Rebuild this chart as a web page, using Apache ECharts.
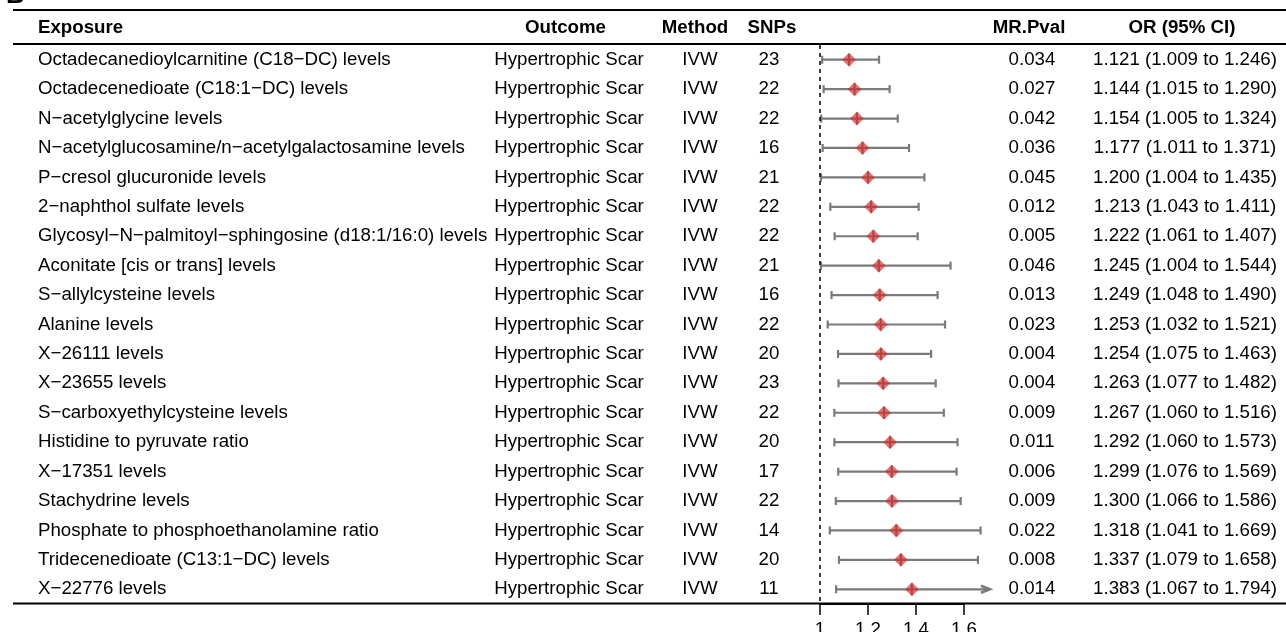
<!DOCTYPE html>
<html><head><meta charset="utf-8">
<script src="https://cdn.jsdelivr.net/npm/echarts@6/dist/echarts.min.js"></script>
<style>html,body{margin:0;padding:0;background:#fff;}#c{width:1286px;height:632px;}</style>
</head><body><div id="c"></div>
<script>
const exposures = [
  "Octadecanedioylcarnitine (C18\u2212DC) levels",
  "Octadecenedioate (C18:1\u2212DC) levels",
  "N\u2212acetylglycine levels",
  "N\u2212acetylglucosamine/n\u2212acetylgalactosamine levels",
  "P\u2212cresol glucuronide levels",
  "2\u2212naphthol sulfate levels",
  "Glycosyl\u2212N\u2212palmitoyl\u2212sphingosine (d18:1/16:0) levels",
  "Aconitate [cis or trans] levels",
  "S\u2212allylcysteine levels",
  "Alanine levels",
  "X\u221226111 levels",
  "X\u221223655 levels",
  "S\u2212carboxyethylcysteine levels",
  "Histidine to pyruvate ratio",
  "X\u221217351 levels",
  "Stachydrine levels",
  "Phosphate to phosphoethanolamine ratio",
  "Tridecenedioate (C13:1\u2212DC) levels",
  "X\u221222776 levels"
];
const outcomes = ["Hypertrophic Scar","Hypertrophic Scar","Hypertrophic Scar","Hypertrophic Scar","Hypertrophic Scar","Hypertrophic Scar","Hypertrophic Scar","Hypertrophic Scar","Hypertrophic Scar","Hypertrophic Scar","Hypertrophic Scar","Hypertrophic Scar","Hypertrophic Scar","Hypertrophic Scar","Hypertrophic Scar","Hypertrophic Scar","Hypertrophic Scar","Hypertrophic Scar","Hypertrophic Scar"];
const methods = ["IVW","IVW","IVW","IVW","IVW","IVW","IVW","IVW","IVW","IVW","IVW","IVW","IVW","IVW","IVW","IVW","IVW","IVW","IVW"];
const snps = ["23","22","22","16","21","22","22","21","16","22","20","23","22","20","17","22","14","20","11"];
const pvals = ["0.034","0.027","0.042","0.036","0.045","0.012","0.005","0.046","0.013","0.023","0.004","0.004","0.009","0.011","0.006","0.009","0.022","0.008","0.014"];
const orVals = [1.121,1.144,1.154,1.177,1.200,1.213,1.222,1.245,1.249,1.253,1.254,1.263,1.267,1.292,1.299,1.300,1.318,1.337,1.383];
const loVals = [1.009,1.015,1.005,1.011,1.004,1.043,1.061,1.004,1.048,1.032,1.075,1.077,1.060,1.060,1.076,1.066,1.041,1.079,1.067];
const hiVals = [1.246,1.290,1.324,1.371,1.435,1.411,1.407,1.544,1.490,1.521,1.463,1.482,1.516,1.573,1.569,1.586,1.669,1.658,1.794];
const headers = ["Exposure","Outcome","Method","SNPs","MR.Pval","OR (95% CI)"];
const axisTicks = [1, 1.2, 1.4, 1.6];

const FF = "'Liberation Sans', Arial, Helvetica, sans-serif";
const FS = 18.7;
const XMIN = 1, XMAX = 1.7;
const CI_COLOR = '#7a7a7a';

const orText = orVals.map((v, i) => v.toFixed(3) + ' (' + loVals[i].toFixed(3) + ' to ' + hiVals[i].toFixed(3) + ')');

function colAxis(data, pos, margin, align) {
  return {
    type: 'category', gridIndex: 0, data: data, inverse: true, position: pos,
    axisLine: {show: false}, axisTick: {show: false}, splitLine: {show: false},
    axisLabel: {interval: 0, margin: margin, align: align, fontSize: FS, color: '#000', fontFamily: FF, padding: [2, 0, 0, 0]}
  };
}

function renderItem(params, api) {
  const row = api.value(1);
  const p = api.coord([api.value(0), row]);
  const l = api.coord([api.value(2), row]);
  const hiV = api.value(3);
  const clipped = hiV > XMAX;
  const h = api.coord([clipped ? XMAX : hiV, row]);
  const y = p[1];
  const ls = {stroke: CI_COLOR, lineWidth: 2.2, fill: null};
  const children = [
    {type: 'line', shape: {x1: l[0], y1: y, x2: clipped ? h[0] + 1 : h[0], y2: y}, style: ls},
    {type: 'line', shape: {x1: l[0], y1: y - 4, x2: l[0], y2: y + 4}, style: ls}
  ];
  if (clipped) {
    children.push({type: 'polyline', shape: {points: [[h[0] - 7, y - 3.5], [h[0] + 2, y], [h[0] - 7, y + 3.5]]}, style: {stroke: CI_COLOR, lineWidth: 2.5, fill: null}});
  } else {
    children.push({type: 'line', shape: {x1: h[0], y1: y - 4, x2: h[0], y2: y + 4}, style: ls});
  }
  children.push({type: 'line', shape: {x1: p[0], y1: y - 6, x2: p[0], y2: y + 6}, style: ls});
  children.push({type: 'polygon', shape: {points: [[p[0] - 7, y], [p[0], y - 7], [p[0] + 7, y], [p[0], y + 7]]},
    style: {fill: 'rgba(212,42,42,0.66)', stroke: null}});
  return {type: 'group', children: children};
}

const chart = echarts.init(document.getElementById('c'), null, {renderer: 'canvas'});
const hdrY = 28;
const hdrFont = 'bold ' + FS + 'px ' + FF;
function hdr(text, x, align) {
  return {type: 'text', silent: true, style: {text: text, x: x, y: hdrY, fill: '#000', font: hdrFont, textAlign: align, textVerticalAlign: 'middle'}};
}
function hline(y) {
  return {type: 'line', silent: true, shape: {x1: 13, y1: y, x2: 1286, y2: y}, style: {stroke: '#000', lineWidth: 2}};
}

chart.setOption({
  animation: false,
  backgroundColor: '#fff',
  grid: [
    {left: 820, width: 168, top: 45, height: 559, outerBoundsMode: 'none', containLabel: false},
    {left: 820, width: 144, top: 594, height: 10, outerBoundsMode: 'none', containLabel: false}
  ],
  xAxis: [
    {type: 'value', gridIndex: 0, min: XMIN, max: XMAX, show: false},
    {type: 'value', gridIndex: 1, min: axisTicks[0], max: axisTicks[axisTicks.length - 1], interval: 0.2, position: 'bottom',
     axisLine: {show: true, lineStyle: {color: '#000', width: 2}},
     axisTick: {show: true, length: 11, lineStyle: {color: '#000', width: 1.5}},
     splitLine: {show: false},
     axisLabel: {fontSize: FS, color: '#000', fontFamily: FF, margin: 16}}
  ],
  yAxis: [
    colAxis(exposures, 'left', 820 - 38, 'left'),
    colAxis(outcomes, 'left', 820 - 569, 'center'),
    colAxis(methods, 'left', 820 - 700, 'center'),
    colAxis(snps, 'left', 820 - 769, 'center'),
    colAxis(pvals, 'right', 1032 - 988, 'center'),
    colAxis(orText, 'right', 1185 - 988, 'center'),
    {type: 'value', gridIndex: 1, show: false, min: 0, max: 1}
  ],
  graphic: [
    {type: 'text', silent: true, style: {text: 'B', x: 6, y: 9, fill: '#000', font: 'bold 26px ' + FF, textAlign: 'left', textVerticalAlign: 'bottom'}},
    hline(10), hline(44), hline(603.5),
    hdr(headers[0], 38, 'left'),
    hdr(headers[1], 565.5, 'center'),
    hdr(headers[2], 695, 'center'),
    hdr(headers[3], 772, 'center'),
    hdr(headers[4], 1029, 'center'),
    hdr(headers[5], 1182, 'center')
  ],
  series: [
    {
      type: 'line', xAxisIndex: 0, yAxisIndex: 0, data: [], silent: true,
      markLine: {silent: true, symbol: 'none', label: {show: false},
        lineStyle: {color: '#000', type: [4, 4], width: 1.5},
        data: [{xAxis: 1}]}
    },
    {
      type: 'custom', xAxisIndex: 0, yAxisIndex: 0, clip: false, silent: true,
      renderItem: renderItem,
      encode: {x: 0, y: 1},
      data: orVals.map((v, i) => [v, i, loVals[i], hiVals[i]])
    }
  ]
});
</script></body></html>
